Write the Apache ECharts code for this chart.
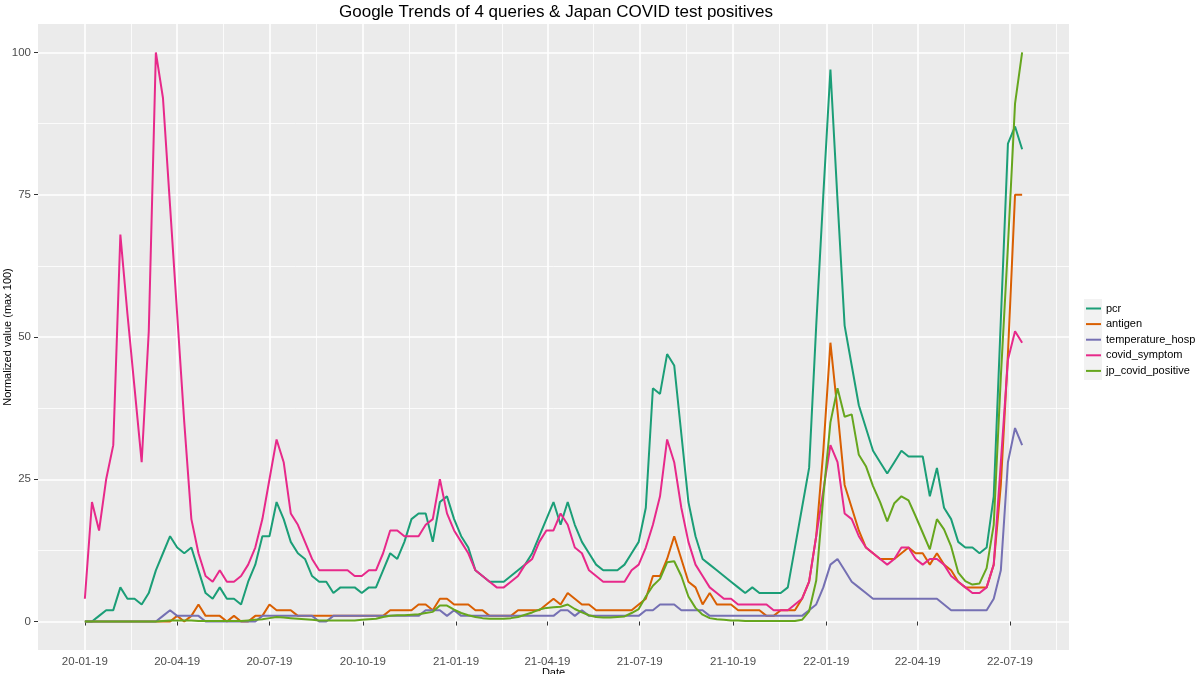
<!DOCTYPE html>
<html>
<head>
<meta charset="utf-8">
<script src="https://cdn.jsdelivr.net/npm/echarts@6.0.0/dist/echarts.min.js"></script>
<style>
  html, body { margin: 0; padding: 0; background: #fff; }
  #chart { width: 1200px; height: 674px; }
</style>
</head>
<body>
<div id="chart"></div>
<script>
// weekly series, first week 2020-01-19
const startDate = '2020-01-19'
const seriesNames = ['pcr', 'antigen', 'temperature_hosp', 'covid_symptom', 'jp_covid_positive']
const seriesColors = ['#1B9E77', '#D95F02', '#7570B3', '#E7298A', '#66A61E']

const pcr = [0, 0, 1, 2, 2, 6, 4, 4, 3, 5,
  9, 12, 15, 13, 12, 13, 9, 5, 4, 6,
  4, 4, 3, 7, 10, 15, 15, 21, 18, 14,
  12, 11, 8, 7, 7, 5, 6, 6, 6, 5,
  6, 6, 9, 12, 11, 14, 18, 19, 19, 14,
  21, 22, 18, 15, 13, 9, 8, 7, 7, 7,
  8, 9, 10, 12, 15, 18, 21, 17, 21, 17,
  14, 12, 10, 9, 9, 9, 10, 12, 14, 20,
  41, 40, 47, 45, 33, 21, 15, 11, 10, 9,
  8, 7, 6, 5, 6, 5, 5, 5, 5, 6,
  13, 20, 27, 52, 75, 97, 74, 52, 45, 38,
  34, 30, 28, 26, 28, 30, 29, 29, 29, 22,
  27, 20, 18, 14, 13, 13, 12, 13, 22, 53,
  84, 87, 83]

const antigen = [0, 0, 0, 0, 0, 0, 0, 0, 0, 0,
  0, 0, 0, 1, 0, 1, 3, 1, 1, 1,
  0, 1, 0, 0, 1, 1, 3, 2, 2, 2,
  1, 1, 1, 1, 1, 1, 1, 1, 1, 1,
  1, 1, 1, 2, 2, 2, 2, 3, 3, 2,
  4, 4, 3, 3, 3, 2, 2, 1, 1, 1,
  1, 2, 2, 2, 2, 3, 4, 3, 5, 4,
  3, 3, 2, 2, 2, 2, 2, 2, 3, 4,
  8, 8, 11, 15, 11, 7, 6, 3, 5, 3,
  3, 3, 2, 2, 2, 2, 1, 1, 2, 2,
  2, 4, 7, 15, 30, 49, 37, 24, 20, 16,
  13, 12, 11, 11, 11, 12, 13, 12, 12, 10,
  12, 10, 9, 7, 6, 6, 6, 6, 10, 24,
  47, 75, 75]

const temperatureHosp = [0, 0, 0, 0, 0, 0, 0, 0, 0, 0,
  0, 1, 2, 1, 1, 1, 1, 0, 0, 0,
  0, 0, 0, 0, 0, 1, 1, 1, 1, 1,
  1, 1, 1, 0, 0, 1, 1, 1, 1, 1,
  1, 1, 1, 1, 1, 1, 1, 1, 2, 2,
  2, 1, 2, 1, 1, 1, 1, 1, 1, 1,
  1, 1, 1, 1, 1, 1, 1, 2, 2, 1,
  2, 1, 1, 1, 1, 1, 1, 1, 1, 2,
  2, 3, 3, 3, 2, 2, 2, 2, 1, 1,
  1, 1, 1, 1, 1, 1, 1, 1, 1, 1,
  1, 1, 2, 3, 6, 10, 11, 9, 7, 6,
  5, 4, 4, 4, 4, 4, 4, 4, 4, 4,
  4, 3, 2, 2, 2, 2, 2, 2, 4, 9,
  28, 34, 31]

const covidSymptom = [4, 21, 16, 25, 31, 68, 54, 41, 28, 51,
  100, 92, 73, 54, 35, 18, 12, 8, 7, 9,
  7, 7, 8, 10, 13, 18, 25, 32, 28, 19,
  17, 14, 11, 9, 9, 9, 9, 9, 8, 8,
  9, 9, 12, 16, 16, 15, 15, 15, 17, 18,
  25, 19, 16, 14, 12, 9, 8, 7, 6, 6,
  7, 8, 10, 11, 14, 16, 16, 19, 17, 13,
  12, 9, 8, 7, 7, 7, 7, 9, 10, 13,
  17, 22, 32, 28, 20, 14, 10, 8, 6, 5,
  4, 4, 3, 3, 3, 3, 3, 2, 2, 2,
  3, 4, 7, 15, 23, 31, 28, 19, 18, 15,
  13, 12, 11, 10, 11, 13, 13, 11, 10, 11,
  11, 10, 8, 7, 6, 5, 5, 6, 10, 28,
  46, 51, 49]

const jpCovidPositive = [0, 0, 0, 0, 0, 0, 0, 0, 0, 0,
  0, 0.1, 0.2, 0.2, 0.2, 0.2, 0.1, 0.1, 0.1, 0.1,
  0.1, 0.1, 0.1, 0.2, 0.3, 0.4, 0.6, 0.8, 0.7, 0.6,
  0.5, 0.4, 0.3, 0.2, 0.2, 0.2, 0.2, 0.2, 0.2, 0.3,
  0.4, 0.5, 0.8, 1, 1.1, 1.1, 1.2, 1.3, 1.5, 1.7,
  2.8, 2.8, 2.1, 1.5, 1.1, 0.8, 0.6, 0.5, 0.5, 0.5,
  0.6, 0.8, 1.2, 1.6, 2.1, 2.4, 2.5, 2.6, 3, 2.2,
  1.6, 1.1, 0.8, 0.7, 0.7, 0.8, 0.9, 1.5, 2.2, 4.4,
  6.3, 7.5, 10.4, 10.6, 8, 4.4, 2.4, 1.2, 0.6, 0.4,
  0.3, 0.2, 0.2, 0.1, 0.1, 0.1, 0.1, 0.1, 0.1, 0.1,
  0.1, 0.3, 1.8, 7.2, 22, 35, 41, 36, 36.4, 29.3,
  27.3, 23.8, 21, 17.6, 20.8, 22, 21.3, 18.5, 15.6, 12.7,
  18, 16.2, 13.2, 8.6, 7.1, 6.5, 6.7, 9.4, 17, 43,
  66, 91, 100]

const tickDates = ['2020-01-19', '2020-04-19', '2020-07-19', '2020-10-19', '2021-01-19', '2021-04-19',
  '2021-07-19', '2021-10-19', '2022-01-19', '2022-04-19', '2022-07-19']
const tickLabels = ['20-01-19', '20-04-19', '20-07-19', '20-10-19', '21-01-19', '21-04-19',
  '21-07-19', '21-10-19', '22-01-19', '22-04-19', '22-07-19']
const yTicks = [0, 25, 50, 75, 100]
const yMinorTicks = [12.5, 37.5, 62.5, 87.5]

const DAY = 86400000
const t0 = new Date(startDate).getTime()
const allValues = [pcr, antigen, temperatureHosp, covidSymptom, jpCovidPositive]
const weeks = pcr.map((_, i) => t0 + i * 7 * DAY)

// ggplot style 5% expansion
const span = weeks[weeks.length - 1] - weeks[0]
const xMin = weeks[0] - span * 0.05
const xMax = weeks[weeks.length - 1] + span * 0.05

const tickTimes = tickDates.map(d => new Date(d).getTime())
const minorTimes = []
for (let i = 0; i < tickTimes.length - 1; i++) minorTimes.push((tickTimes[i] + tickTimes[i + 1]) / 2)
minorTimes.push(tickTimes[tickTimes.length - 1] + (tickTimes[tickTimes.length - 1] - tickTimes[tickTimes.length - 2]) / 2)

const font = '"Liberation Sans", Arial, Helvetica, sans-serif'

const chart = echarts.init(document.getElementById('chart'))
chart.setOption({
  animation: false,
  backgroundColor: '#fff',
  textStyle: { fontFamily: font },
  title: {
    text: 'Google Trends of 4 queries & Japan COVID test positives',
    left: 339,
    top: 4,
    padding: 0,
    textStyle: { fontSize: 17, fontWeight: 'normal', color: '#000', fontFamily: font }
  },
  grid: {
    left: 38, right: 131, top: 24, bottom: 24,
    show: true, backgroundColor: '#EBEBEB', borderWidth: 0,
    outerBoundsMode: 'none'
  },
  legend: {
    orient: 'vertical',
    left: 1086,
    top: 303,
    icon: 'rect',
    itemWidth: 15,
    itemHeight: 2,
    itemGap: 4.6,
    padding: 0,
    textStyle: { fontSize: 11, color: '#000', fontFamily: font },
    data: seriesNames
  },
  graphic: [{
    type: 'rect',
    z: -1,
    shape: { x: 1084, y: 299, width: 18, height: 81 },
    style: { fill: '#F2F2F2' }
  }],
  xAxis: [{
    type: 'value',
    min: xMin,
    max: xMax,
    name: 'Date',
    nameLocation: 'middle',
    nameGap: 17,
    nameMoveOverlap: false,
    nameTextStyle: { fontSize: 11, color: '#000', verticalAlign: 'top' },
    axisLine: { show: false },
    axisTick: { show: true, length: 4, lineStyle: { color: '#333' }, customValues: tickTimes },
    axisLabel: {
      customValues: tickTimes,
      fontSize: 11.5,
      color: '#4D4D4D',
      margin: 6,
      formatter: v => tickLabels[tickTimes.indexOf(v)] || ''
    },
    splitLine: { show: true, lineStyle: { color: '#fff', width: 1.6 } }
  }, {
    type: 'value',
    min: xMin,
    max: xMax,
    axisLine: { show: false },
    axisTick: { show: false, customValues: minorTimes },
    axisLabel: { show: false },
    splitLine: { show: true, lineStyle: { color: '#fff', width: 0.8 } }
  }],
  yAxis: [{
    type: 'value',
    min: -5,
    max: 105,
    name: 'Normalized value (max 100)',
    nameLocation: 'middle',
    nameGap: 25,
    nameMoveOverlap: false,
    nameTextStyle: { fontSize: 11, color: '#000' },
    axisLine: { show: false },
    axisTick: { show: true, length: 4, lineStyle: { color: '#333' }, customValues: yTicks },
    axisLabel: { customValues: yTicks, fontSize: 11.5, color: '#4D4D4D', margin: 7 },
    splitLine: { show: true, lineStyle: { color: '#fff', width: 1.6 } }
  }, {
    type: 'value',
    min: -5,
    max: 105,
    position: 'left',
    axisLine: { show: false },
    axisTick: { show: false, customValues: yMinorTicks },
    axisLabel: { show: false },
    splitLine: { show: true, lineStyle: { color: '#fff', width: 0.8 } }
  }],
  series: seriesNames.map((name, k) => ({
    name,
    type: 'line',
    xAxisIndex: 0,
    yAxisIndex: 0,
    showSymbol: false,
    symbol: 'none',
    color: seriesColors[k],
    lineStyle: { width: 2, color: seriesColors[k] },
    data: allValues[k].map((v, i) => [weeks[i], v])
  }))
})
</script>
</body>
</html>
